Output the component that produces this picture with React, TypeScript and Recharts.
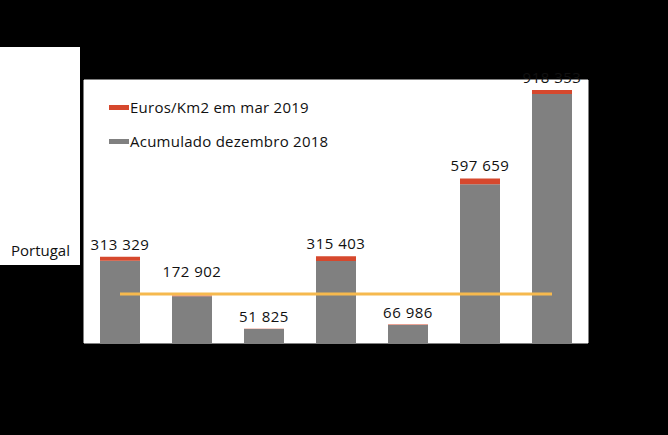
import { Bar, CartesianGrid, ComposedChart, LabelList, Legend, Line, XAxis, YAxis } from "recharts"

const W = 668
const H = 435
const RED = "#d6482d"
const GRAY = "#808080"
const ORANGE = "#f6b94e"
const FONT = "'Open Sans', sans-serif"
const MARGIN = { top: 80, right: 80, bottom: 92, left: 84 }
const Y_MAX = 955000

// categorias (o eixo não aparece na imagem)
const categories = ["R1", "R2", "R3", "R4", "R5", "R6", "R7"]
const acumulado = [298829, 169402, 50925, 297403, 65786, 576159, 903853]
const marco = [14500, 3500, 900, 18000, 1200, 21500, 14500]
const totais = [313329, 172902, 51825, 315403, 66986, 597659, 918353]
const portugal = [178000, 178000, 178000, 178000, 178000, 178000, 178000]

const data = categories.map((c, i) => ({
  c,
  acum: acumulado[i],
  mar: marco[i],
  total: totais[i],
  pt: portugal[i],
}))

const fmt = (v: unknown) => String(v).replace(/\B(?=(\d{3})+(?!\d))/g, " ")

// y em px da linha laranja (média Portugal), para as etiquetas não a taparem
const plotH = H - MARGIN.top - MARGIN.bottom
const lineY = MARGIN.top + plotH * (1 - portugal[0] / Y_MAX)

// etiqueta numa linha só (o Text do recharts partia em duas)
function TopLabel(props: any) {
  const { x, y, width, value } = props
  let base = Number(y) - 7
  if (base > lineY - 6 && base - 11 < lineY + 2) base = lineY - 17
  return (
    <text
      x={Number(x) + Number(width) / 2}
      y={base}
      textAnchor="middle"
      fill="#111"
      fontSize={15}
      letterSpacing={0.5}
      fontFamily={FONT}
    >
      {fmt(value)}
    </text>
  )
}

const legendItems = [
  { label: "Euros/Km2 em mar 2019", color: RED },
  { label: "Acumulado dezembro 2018", color: GRAY },
]

function LegendBox() {
  return (
    <div style={{ fontFamily: FONT }}>
      {legendItems.map((it) => (
        <div key={it.label} style={{ display: "flex", alignItems: "center", height: 34 }}>
          <span style={{ display: "inline-block", width: 20, height: 5, background: it.color, marginRight: 1 }} />
          <span style={{ fontSize: 15, letterSpacing: 0.25, color: "#111" }}>{it.label}</span>
        </div>
      ))}
    </div>
  )
}

export default function App() {
  return (
    <div style={{ position: "absolute", left: 0, top: 0, width: W, height: H, background: "#000", fontFamily: FONT }}>
      <div style={{ position: "absolute", left: 0, top: 47, width: 80, height: 218, background: "#fff" }}>
        <span style={{ position: "absolute", right: 10, top: 193, fontSize: 15, color: "#111" }}>Portugal</span>
      </div>
      <ComposedChart width={W} height={H} data={data} margin={MARGIN} barSize={40}>
        <CartesianGrid fill="#fff" stroke="#fff" />
        <XAxis dataKey="c" hide />
        <YAxis hide domain={[0, Y_MAX]} allowDataOverflow />
        <Bar dataKey="acum" stackId="s" fill={GRAY} isAnimationActive={false} />
        <Bar dataKey="mar" stackId="s" fill={RED} isAnimationActive={false}>
          <LabelList dataKey="total" content={<TopLabel />} />
        </Bar>
        <Line dataKey="pt" stroke={ORANGE} strokeWidth={3} dot={false} isAnimationActive={false} />
        <Legend
          layout="vertical"
          align="center"
          verticalAlign="middle"
          content={<LegendBox />}
          wrapperStyle={{ left: 109, top: 90, width: "auto" }}
        />
      </ComposedChart>
    </div>
  )
}
